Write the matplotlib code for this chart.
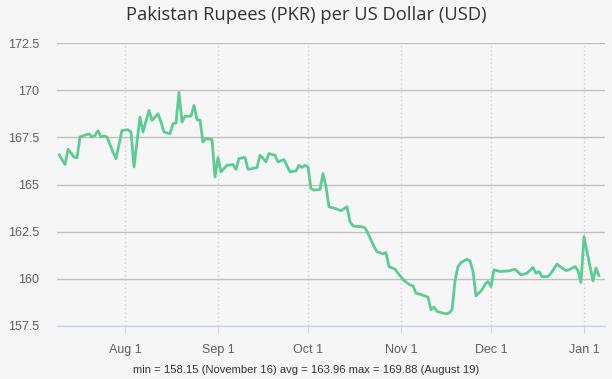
import matplotlib
matplotlib.use("Agg")
import matplotlib.pyplot as plt
import pandas as pd

dates = [
    "2020-07-10", "2020-07-12", "2020-07-13", "2020-07-15", "2020-07-16", "2020-07-17",
    "2020-07-19", "2020-07-20", "2020-07-21", "2020-07-22", "2020-07-23", "2020-07-24",
    "2020-07-25", "2020-07-26", "2020-07-28", "2020-07-29", "2020-07-31", "2020-08-02",
    "2020-08-03", "2020-08-04", "2020-08-06", "2020-08-07", "2020-08-09", "2020-08-10",
    "2020-08-12", "2020-08-13", "2020-08-14", "2020-08-16", "2020-08-17", "2020-08-18",
    "2020-08-19", "2020-08-20", "2020-08-21", "2020-08-23", "2020-08-24", "2020-08-25",
    "2020-08-26", "2020-08-27", "2020-08-28", "2020-08-30", "2020-08-31", "2020-09-01",
    "2020-09-02", "2020-09-04", "2020-09-06", "2020-09-07", "2020-09-08", "2020-09-10",
    "2020-09-11", "2020-09-14", "2020-09-15", "2020-09-16", "2020-09-17", "2020-09-18",
    "2020-09-20", "2020-09-21", "2020-09-23", "2020-09-25", "2020-09-27", "2020-09-28",
    "2020-09-29", "2020-09-30", "2020-10-01", "2020-10-02", "2020-10-03", "2020-10-05",
    "2020-10-06", "2020-10-07", "2020-10-08", "2020-10-10", "2020-10-12", "2020-10-14",
    "2020-10-15", "2020-10-16", "2020-10-19", "2020-10-20", "2020-10-21", "2020-10-23",
    "2020-10-24", "2020-10-26", "2020-10-27", "2020-10-28", "2020-10-30", "2020-10-31",
    "2020-11-02", "2020-11-04", "2020-11-05", "2020-11-06", "2020-11-08", "2020-11-10",
    "2020-11-11", "2020-11-12", "2020-11-13", "2020-11-15", "2020-11-16", "2020-11-17",
    "2020-11-18", "2020-11-19", "2020-11-20", "2020-11-21", "2020-11-23", "2020-11-24",
    "2020-11-25", "2020-11-26", "2020-11-28", "2020-11-29", "2020-11-30", "2020-12-01",
    "2020-12-02", "2020-12-04", "2020-12-07", "2020-12-09", "2020-12-11", "2020-12-13",
    "2020-12-15", "2020-12-16", "2020-12-17", "2020-12-18", "2020-12-20", "2020-12-21",
    "2020-12-23", "2020-12-24", "2020-12-26", "2020-12-27", "2020-12-29", "2020-12-30",
    "2020-12-31", "2021-01-01", "2021-01-02", "2021-01-04", "2021-01-05", "2021-01-06",
]
rates = [
    166.59, 166.06, 166.87, 166.46, 166.41, 167.52,
    167.64, 167.68, 167.52, 167.60, 167.85, 167.52,
    167.57, 167.52, 166.72, 166.37, 167.87, 167.90,
    167.78, 165.93, 168.57, 167.78, 168.93, 168.40,
    168.75, 168.31, 167.78, 167.69, 168.22, 168.26,
    169.88, 168.31, 168.61, 168.63, 169.19, 168.44,
    168.40, 167.25, 167.43, 167.38, 165.40, 166.43,
    165.67, 166.02, 166.06, 165.80, 166.38, 166.43,
    165.80, 165.90, 166.55, 166.40, 166.20, 166.64,
    166.55, 166.20, 166.32, 165.67, 165.72, 166.02,
    165.90, 166.02, 165.93, 164.79, 164.70, 164.74,
    165.58, 164.88, 163.82, 163.73, 163.61, 163.82,
    163.03, 162.80, 162.76, 162.70, 162.41, 161.71,
    161.44, 161.32, 161.39, 160.65, 160.51, 160.30,
    159.91, 159.68, 159.63, 159.24, 159.15, 159.03,
    158.36, 158.50, 158.27, 158.18, 158.15, 158.18,
    158.36, 159.90, 160.65, 160.86, 161.04, 160.95,
    160.39, 159.10, 159.42, 159.70, 159.86, 159.59,
    160.48, 160.39, 160.42, 160.51, 160.21, 160.30,
    160.60, 160.30, 160.39, 160.12, 160.12, 160.30,
    160.78, 160.65, 160.44, 160.48, 160.65, 160.44,
    159.80, 162.23, 161.44, 159.89, 160.57, 160.16,
]
y_ticks = [157.5, 160, 162.5, 165, 167.5, 170, 172.5]
y_tick_labels = ["157.5", "160", "162.5", "165", "167.5", "170", "172.5"]
x_ticks = ["2020-08-01", "2020-09-01", "2020-10-01", "2020-11-01", "2020-12-01", "2021-01-01"]
x_tick_labels = ["Aug 1", "Sep 1", "Oct 1", "Nov 1", "Dec 1", "Jan 1"]
title = "Pakistan Rupees (PKR) per US Dollar (USD)"
footer = "min = 158.15 (November 16) avg = 163.96 max = 169.88 (August 19)"

bg = "#f6f6f6"
plt.rcParams["font.family"] = ["Liberation Sans", "DejaVu Sans"]

fig = plt.figure(figsize=(6.12, 3.79), dpi=100, facecolor=bg)
ax = fig.add_axes([57 / 612, 1 - 326 / 379, 548 / 612, 283 / 379])
ax.set_facecolor(bg)

x = pd.to_datetime(dates)
ax.plot(x, rates, color="#5fcb94", lw=2.0, solid_joinstyle="round",
        solid_capstyle="round", zorder=3)

ax.set_ylim(157.5, 172.5)
ax.set_xlim(pd.Timestamp("2020-07-09 08:00"), pd.Timestamp("2021-01-08"))
ax.set_yticks(y_ticks)
ax.set_yticklabels(y_tick_labels)
ax.set_xticks(pd.to_datetime(x_ticks))
ax.set_xticklabels(x_tick_labels)

ax.grid(axis="y", color="#c0c0c0", lw=1.0, ls="-")
ax.grid(axis="x", color="#d0d0d0", lw=1.0, ls=(0, (1, 2)))
ax.set_axisbelow(True)
for s in ["top", "right", "left"]:
    ax.spines[s].set_visible(False)
ax.spines["bottom"].set_color("#ccd6eb")
ax.spines["bottom"].set_linewidth(1.0)

ax.tick_params(axis="y", length=0, pad=13, labelsize=9, labelcolor="#606060")
ax.tick_params(axis="x", length=5, color="#ccd6eb", pad=8, labelsize=9, labelcolor="#606060")

fig.text(0.5, 1 - 15 / 379, title, ha="center", va="center", fontsize=13.2, color="#333333",
         family=["Open Sans", "DejaVu Sans"])
fig.text(0.5, 1 - 370 / 379, footer, ha="center", va="center", fontsize=8.1, color="#333333")

fig.savefig("out.png", dpi=100, facecolor=bg)
